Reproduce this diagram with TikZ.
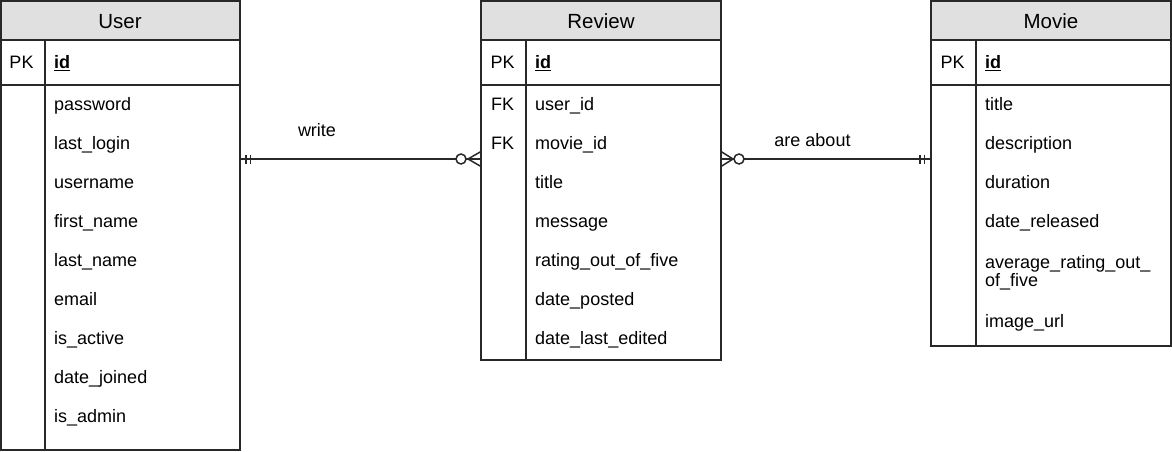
\documentclass[tikz,border=0pt]{standalone}
\usepackage{fontspec}
\setmainfont{Liberation Sans}
\definecolor{lc}{RGB}{40,40,40}
\definecolor{hc}{RGB}{224,224,224}
\newcommand\fbody{\fontsize{18}{17.5}\selectfont}
\newcommand\fhead{\fontsize{20.5}{24}\selectfont}
\tikzset{
  ln/.style={draw=lc, line width=1.5pt},
  tbl/.style={ln, fill=white, anchor=north west, inner sep=0pt, outer sep=0pt, minimum width=240pt},
  hdr/.style={ln, fill=hc, anchor=north west, inner sep=0pt, outer sep=0pt, minimum width=240pt, minimum height=39pt},
  fld/.style={anchor=base west, inner sep=0pt, font=\fbody},
  keyf/.style={anchor=base, inner sep=0pt, font=\fbody},
  ttl/.style={anchor=base, inner sep=0pt, font=\fhead},
  lbl/.style={anchor=base, inner sep=0pt, font=\fbody},
  rel/.style={draw=lc, line width=1.5pt},
  ring/.style={draw=lc, line width=1.5pt, fill=white},
}
\begin{document}
\begin{tikzpicture}[x=1pt,y=-1pt]
\useasboundingbox (0,0) rectangle (1172,452);

% ---------- User ----------
\node[tbl, minimum width=239.25pt, minimum height=449pt] (user) at (0.75,1) {};
\node[hdr, minimum width=239.25pt] (userH) at (0.75,1) {};
\node[ttl] (userT) at (120,28.3) {User};
\draw[ln] (0.75,85) -- (240,85);
\draw[ln] (45,40) -- (45,450);
\node[keyf] (uPK) at (21.5,69) {PK};
\node[fld] (uid) at (54,69) {\textbf{\underline{id}}};
\node[fld] (u1) at (54,110) {password};
\node[fld] (u2) at (54,149) {last\_login};
\node[fld] (u3) at (54,188) {username};
\node[fld] (u4) at (54,227) {first\_name};
\node[fld] (u5) at (54,266) {last\_name};
\node[fld] (u6) at (54,305) {email};
\node[fld] (u7) at (54,344) {is\_active};
\node[fld] (u8) at (54,383) {date\_joined};
\node[fld] (u9) at (54,422) {is\_admin};

% ---------- Review ----------
\node[tbl, minimum height=359pt] (review) at (481,1) {};
\node[hdr] (reviewH) at (481,1) {};
\node[ttl] (reviewT) at (601,28.3) {Review};
\draw[ln] (481,85) -- (721,85);
\draw[ln] (526,40) -- (526,360);
\node[keyf] (rPK) at (502.5,69) {PK};
\node[fld] (rid) at (535,69) {\textbf{\underline{id}}};
\node[keyf] (rFK1) at (502.5,110) {FK};
\node[keyf] (rFK2) at (502.5,149) {FK};
\node[fld] (r1) at (535,110) {user\_id};
\node[fld] (r2) at (535,149) {movie\_id};
\node[fld] (r3) at (535,188) {title};
\node[fld] (r4) at (535,227) {message};
\node[fld] (r5) at (535,266) {rating\_out\_of\_five};
\node[fld] (r6) at (535,305) {date\_posted};
\node[fld] (r7) at (535,344) {date\_last\_edited};

% ---------- Movie ----------
\node[tbl, minimum height=345pt] (movie) at (931,1) {};
\node[hdr] (movieH) at (931,1) {};
\node[ttl] (movieT) at (1051,28.3) {Movie};
\draw[ln] (931,85) -- (1171,85);
\draw[ln] (976,40) -- (976,346);
\node[keyf] (mPK) at (952.5,69) {PK};
\node[fld] (mid) at (985,69) {\textbf{\underline{id}}};
\node[fld] (m1) at (985,110) {title};
\node[fld] (m2) at (985,149) {description};
\node[fld] (m3) at (985,188) {duration};
\node[fld] (m4) at (985,227) {date\_released};
\node[fld] (m5) at (985,268.5) {average\_rating\_out\_};
\node[fld] (m5b) at (985,286) {of\_five};
\node[fld] (m6) at (985,327) {image\_url};

% ---------- Relation: write ----------
\coordinate (ry) at (0,159);
\coordinate (wA) at (user.east |- ry);
\coordinate (wB) at (review.west |- ry);
\draw[rel] (wA) -- (wB);
\draw[rel] (wA) ++(6,-4.5) -- ++(0,9);
\draw[rel] (wA) ++(10.5,-4.5) -- ++(0,9);
\draw[rel] (wB) ++(-13,0) -- ++(13,-7.5);
\draw[rel] (wB) ++(-13,0) -- ++(13,7.5);
\draw[ring] (wB) ++(-20,0) circle[radius=5pt];
\node[lbl] (wL) at (317,136.5) {write};

% ---------- Relation: are about ----------
\coordinate (aA) at (review.east |- ry);
\coordinate (aB) at (movie.west |- ry);
\draw[rel] (aA) -- (aB);
\draw[rel] (aA) ++(12,0) -- ++(-12,-7.5);
\draw[rel] (aA) ++(12,0) -- ++(-12,7.5);
\draw[ring] (aA) ++(18,0) circle[radius=5pt];
\draw[rel] (aB) ++(-6.5,-4.5) -- ++(0,9);
\draw[rel] (aB) ++(-11,-4.5) -- ++(0,9);
\node[lbl] (aL) at (812.5,146) {are about};
\end{tikzpicture}
\end{document}
